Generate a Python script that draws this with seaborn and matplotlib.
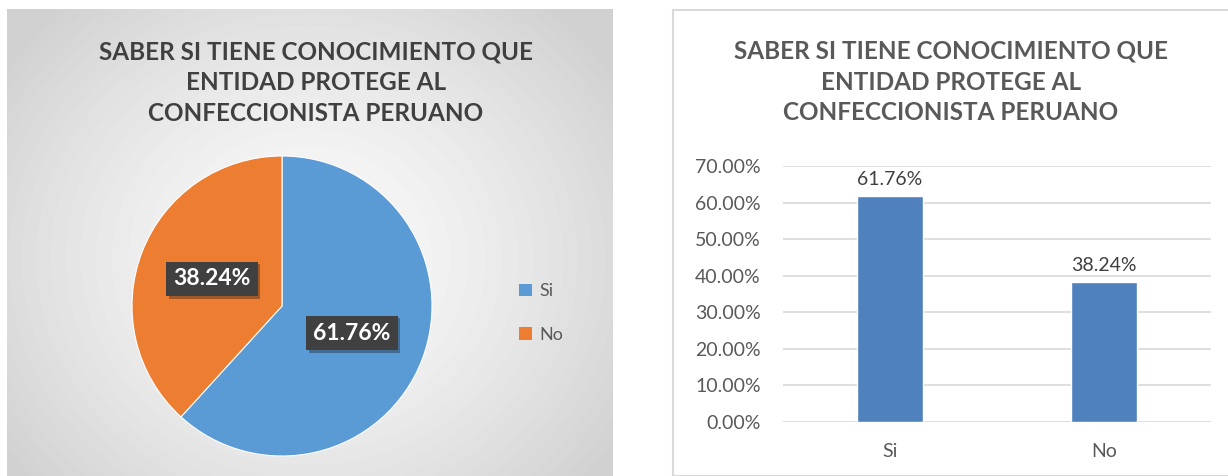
import numpy as np
import pandas as pd
import matplotlib
matplotlib.use("Agg")
from matplotlib import pyplot as plt
from matplotlib import patheffects
from matplotlib.patches import Patch, Rectangle
from matplotlib.ticker import FuncFormatter
import seaborn as sns


# Chart data
categories = ["Si", "No"]
percentages = [61.76, 38.24]
y_ticks = [0, 10, 20, 30, 40, 50, 60, 70]
title = "SABER SI TIENE CONOCIMIENTO QUE\nENTIDAD PROTEGE AL\nCONFECCIONISTA PERUANO"

pie_colors = ["#5B9BD5", "#ED7D31"]
bar_color = "#4F81BD"


def px(x, y, w, h, W=1228, H=476):
    # convert pixel box (top-left origin) to figure fraction
    return [x / W, 1 - (y + h) / H, w / W, h / H]


def draw_background(fig):
    bg = fig.add_axes(px(7, 9, 606, 467))
    yy, xx = np.mgrid[0:467, 0:606]
    dist = np.sqrt(((xx - 300) / 330.0) ** 2 + ((yy - 250) / 300.0) ** 2)
    shade = np.clip(0.985 - 0.14 * dist ** 1.4, 0.82, 1.0)
    bg.imshow(shade, cmap="gray", vmin=0, vmax=1, aspect="auto")
    bg.axis("off")

    fig.patches.append(Rectangle((673 / 1228, 0), 560 / 1228, 466 / 476,
                                 transform=fig.transFigure, fill=False,
                                 edgecolor="#d9d9d9", linewidth=1.5))


def plot_pie(fig):
    ax = fig.add_axes(px(132, 156, 300, 300))
    ax.pie(percentages, colors=pie_colors, startangle=90, counterclock=False,
           autopct=lambda p: "%.2f%%" % p, pctdistance=0.5,
           wedgeprops={"edgecolor": "white", "linewidth": 0.8},
           textprops={"color": "white", "fontsize": 16.5, "fontweight": "bold"})
    for t in ax.texts:
        t.set_bbox({"boxstyle": "square,pad=0.3", "facecolor": "#404040",
                    "edgecolor": "none"})
        t.get_bbox_patch().set_path_effects(
            [patheffects.SimplePatchShadow(offset=(2, -2), alpha=0.35),
             patheffects.Normal()])
    ax.set_xlim(-1, 1)
    ax.set_ylim(-1, 1)

    handles = [Patch(facecolor=c, edgecolor="none") for c in pie_colors]
    fig.legend(handles, categories, loc="center left",
               bbox_to_anchor=(503 / 1228, 1 - 313 / 476), frameon=False,
               fontsize=13, labelcolor="#595959", handlelength=0.7,
               handleheight=0.7, handletextpad=0.4, labelspacing=1.5)

    fig.text(316 / 1228, 1 - 83 / 476, title, ha="center", va="center",
             fontsize=17.5, fontweight="bold", color="#404040", linespacing=1.42)


def plot_bars(fig):
    ax = fig.add_axes(px(783, 166, 428, 256))
    df = pd.DataFrame({"cat": categories, "pct": percentages})
    sns.barplot(data=df, x="cat", y="pct", color=bar_color, width=0.31,
                saturation=1, ax=ax)
    ax.set_ylim(0, 70)
    ax.set_xlim(-0.5, 1.5)
    ax.set_yticks(y_ticks)
    ax.yaxis.set_major_formatter(FuncFormatter(lambda v, _: "%.2f%%" % v))
    ax.set_xlabel("")
    ax.set_ylabel("")
    ax.grid(axis="y", color="#d9d9d9", linewidth=1.2)
    ax.set_axisbelow(True)
    for s in ax.spines.values():
        s.set_visible(False)
    ax.tick_params(axis="y", length=0, pad=16, labelsize=14, labelcolor="#595959")
    ax.tick_params(axis="x", length=0, pad=15, labelsize=14, labelcolor="#595959")
    ax.bar_label(ax.containers[0], labels=["%.2f%%" % v for v in percentages],
                 padding=6, fontsize=14, color="#404040")

    fig.text(951 / 1228, 1 - 82 / 476, title, ha="center", va="center",
             fontsize=17.5, fontweight="bold", color="#595959", linespacing=1.42)


def main():
    sns.set_theme(style="white")
    plt.rcParams["font.family"] = ["Lato", "DejaVu Sans"]
    fig = plt.figure(figsize=(12.28, 4.76), dpi=100)
    fig.patch.set_facecolor("white")
    draw_background(fig)
    plot_pie(fig)
    plot_bars(fig)
    fig.savefig("out.png", dpi=100)


if __name__ == "__main__":
    main()
